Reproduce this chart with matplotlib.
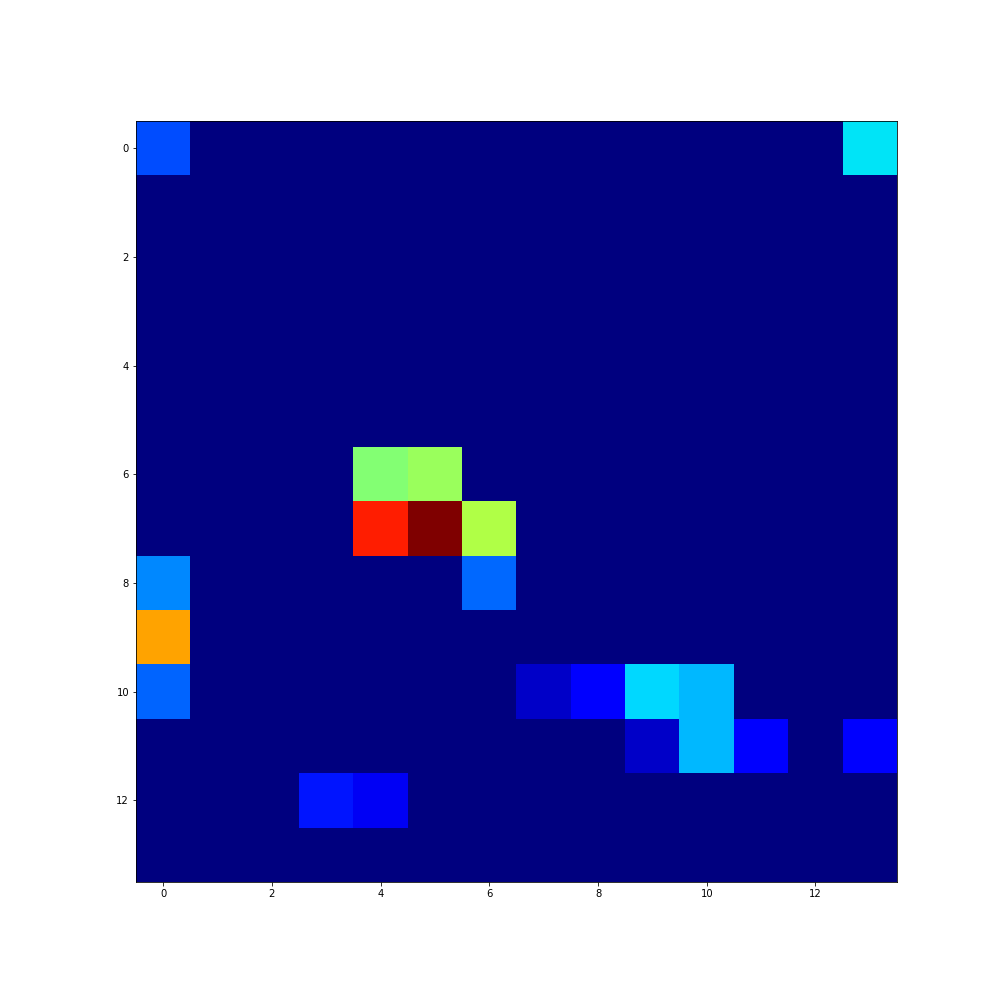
import numpy as np
import matplotlib
matplotlib.use('Agg')
import matplotlib.pyplot as plt

# nonzero cells of the 14x14 matrix (row, col, value); everything else is 0
rows = [0, 0, 6, 6, 7, 7, 7, 8, 8, 9, 10, 10, 10, 10, 10, 11, 11, 11, 11, 12, 12]
cols = [0, 13, 4, 5, 4, 5, 6, 0, 6, 0, 0, 7, 8, 9, 10, 9, 10, 11, 13, 3, 4]
vals = [0.203, 0.348, 0.51, 0.536, 0.876, 1.0, 0.564, 0.258, 0.227, 0.735,
        0.225, 0.066, 0.118, 0.337, 0.305, 0.066, 0.305, 0.118, 0.118, 0.148, 0.105]

n = 14
mat = np.zeros((n, n))
for r, c, v in zip(rows, cols, vals):
    mat[r, c] = v

fig = plt.figure(figsize=(14, 14), dpi=72)
ax = fig.add_axes([136/1008, 126/1008, 761/1008, 761/1008])
ax.imshow(mat, cmap='jet', vmin=0, vmax=1, interpolation='nearest')

fig.savefig('out.png', dpi=72)
